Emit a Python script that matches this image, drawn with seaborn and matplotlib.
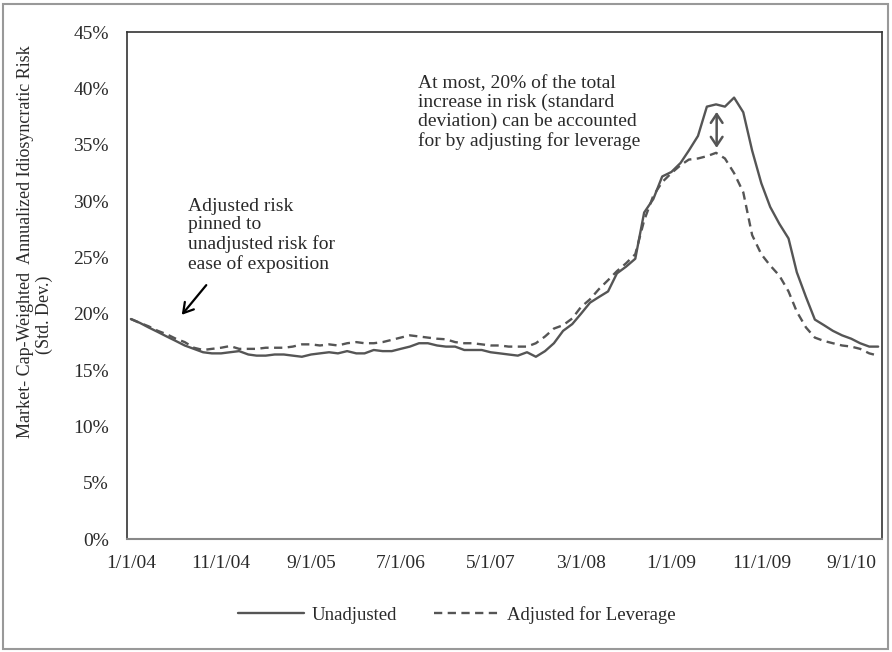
import matplotlib

matplotlib.use("Agg")
import matplotlib.pyplot as plt
import numpy as np
import pandas as pd
import seaborn as sns
from matplotlib.patches import Rectangle
from matplotlib.ticker import FuncFormatter

# monthly series, Jan 2004 - Dec 2010 (annualized idiosyncratic risk, %)
unadjusted = [
    19.55, 19.2, 18.8, 18.4, 18.0, 17.6, 17.2, 16.9, 16.6, 16.5,
    16.5, 16.6, 16.7, 16.4, 16.3, 16.3, 16.4, 16.4, 16.3, 16.2,
    16.4, 16.5, 16.6, 16.5, 16.7, 16.5, 16.5, 16.8, 16.7, 16.7,
    16.9, 17.1, 17.4, 17.4, 17.2, 17.1, 17.1, 16.8, 16.8, 16.8,
    16.6, 16.5, 16.4, 16.3, 16.6, 16.2, 16.7, 17.4, 18.5, 19.1,
    20.0, 21.0, 21.5, 22.0, 23.6, 24.2, 24.9, 29.0, 30.2, 32.2,
    32.6, 33.4, 34.5, 35.8, 38.4, 38.6, 38.4, 39.2, 37.9, 34.5,
    31.6, 29.5, 28.0, 26.7, 23.7, 21.5, 19.5, 19.0, 18.5, 18.1,
    17.8, 17.4, 17.1, 17.1,
]
adjusted = [
    19.55, 19.2, 18.9, 18.5, 18.2, 17.8, 17.5, 17.0, 16.8, 16.9,
    17.0, 17.15, 16.9, 16.9, 16.9, 17.0, 17.0, 17.0, 17.1, 17.3,
    17.3, 17.2, 17.3, 17.2, 17.4, 17.5, 17.4, 17.4, 17.5, 17.7,
    17.9, 18.1, 18.0, 17.9, 17.8, 17.75, 17.5, 17.4, 17.4, 17.3,
    17.2, 17.2, 17.1, 17.1, 17.1, 17.4, 18.0, 18.7, 19.0, 19.6,
    20.6, 21.3, 22.2, 23.0, 23.8, 24.5, 25.3, 28.3, 30.5, 31.7,
    32.5, 33.2, 33.7, 33.8, 34.0, 34.3, 33.8, 32.5, 30.8, 27.0,
    25.3, 24.3, 23.4, 22.0, 20.2, 18.8, 17.9, 17.6, 17.4, 17.2,
    17.1, 16.9, 16.5, 16.3,
]
dates = pd.date_range("2004-01-01", periods=len(unadjusted), freq="MS")
tick_labels = ["1/1/04", "11/1/04", "9/1/05", "7/1/06", "5/1/07",
               "3/1/08", "1/1/09", "11/1/09", "9/1/10"]
y_ticks = [0, 5, 10, 15, 20, 25, 30, 35, 40, 45]

line_color = "#555555"
text_color = "#2a2a2a"

sns.set_theme(style="white")
plt.rcParams["font.family"] = ["Liberation Serif", "DejaVu Serif"]
plt.rcParams["font.size"] = 14

fig = plt.figure(figsize=(8.92, 6.52), dpi=100)
ax = fig.add_axes([0.1424, 0.1729, 0.8464, 0.7776])

sns.lineplot(x=dates, y=unadjusted, ax=ax, color=line_color, lw=1.7,
             label="Unadjusted", legend=False)
sns.lineplot(x=dates, y=adjusted, ax=ax, color=line_color, lw=1.7,
             label="Adjusted for Leverage", legend=False)
ax.lines[1].set_dashes((3.5, 2.3))

ax.set_ylim(0, 45)
ax.set_yticks(y_ticks)
ax.yaxis.set_major_formatter(FuncFormatter(lambda v, _: f"{v:.0f}%"))
ax.set_xlim(dates[0] - pd.Timedelta(days=13), dates[-1] + pd.Timedelta(days=13))
ax.set_xticks(dates[::10])
ax.set_xticklabels(tick_labels)
ax.tick_params(axis="both", length=0, labelsize=14, colors=text_color)
ax.tick_params(axis="y", pad=13)
ax.tick_params(axis="x", pad=11)
ax.set_xlabel("")
ax.set_ylabel("")
for side in ["left", "top", "right"]:
    ax.spines[side].set_color("#333333")
    ax.spines[side].set_linewidth(1.2)
ax.spines["bottom"].set_color("#888888")
ax.spines["bottom"].set_linewidth(1.5)

# y axis title (two lines, as in the source)
fig.text(26 / 892, 1 - 242 / 652, "Market- Cap-Weighted  Annualized Idiosyncratic Risk",
         rotation=90, ha="center", va="center", fontsize=13, color=text_color)
fig.text(44 / 892, 1 - 315 / 652, "(Std. Dev.)",
         rotation=90, ha="center", va="center", fontsize=13, color=text_color)

# annotations
ax.text(0.0808, 0.674, "Adjusted risk\npinned to\nunadjusted risk for\nease of exposition",
        transform=ax.transAxes, ha="left", va="top", linespacing=1.13,
        fontsize=14, color=text_color)
ax.annotate("", xy=(0.0702, 0.4385), xytext=(0.1073, 0.5055),
            xycoords="axes fraction", textcoords="axes fraction",
            arrowprops=dict(arrowstyle="->,head_length=0.5,head_width=0.3",
                            color="black", lw=1.6))
ax.text(0.3854, 0.915,
        "At most, 20% of the total\nincrease in risk (standard\n"
        "deviation) can be accounted\nfor by adjusting for leverage",
        transform=ax.transAxes, ha="left", va="top", linespacing=1.13,
        fontsize=14, color=text_color)
ax.annotate("", xy=(0.781, 0.772), xytext=(0.781, 0.843),
            xycoords="axes fraction", textcoords="axes fraction",
            arrowprops=dict(arrowstyle="<->,head_length=0.45,head_width=0.3",
                            color=line_color, lw=1.8, shrinkA=0, shrinkB=0))

handles, labels = ax.get_legend_handles_labels()
fig.legend(handles, labels, loc="center", bbox_to_anchor=(457 / 892, 1 - 615 / 652),
           ncol=2, frameon=False, handlelength=3.5, columnspacing=2.0,
           handletextpad=0.4, fontsize=13.5, labelcolor=text_color)

# outer frame of the figure
fig.patches.append(Rectangle((3 / 892, 3 / 652), 1 - 7 / 892, 1 - 7 / 652,
                             transform=fig.transFigure, fill=False,
                             edgecolor="#999999", lw=1.5))

fig.savefig("out.png", dpi=100)
